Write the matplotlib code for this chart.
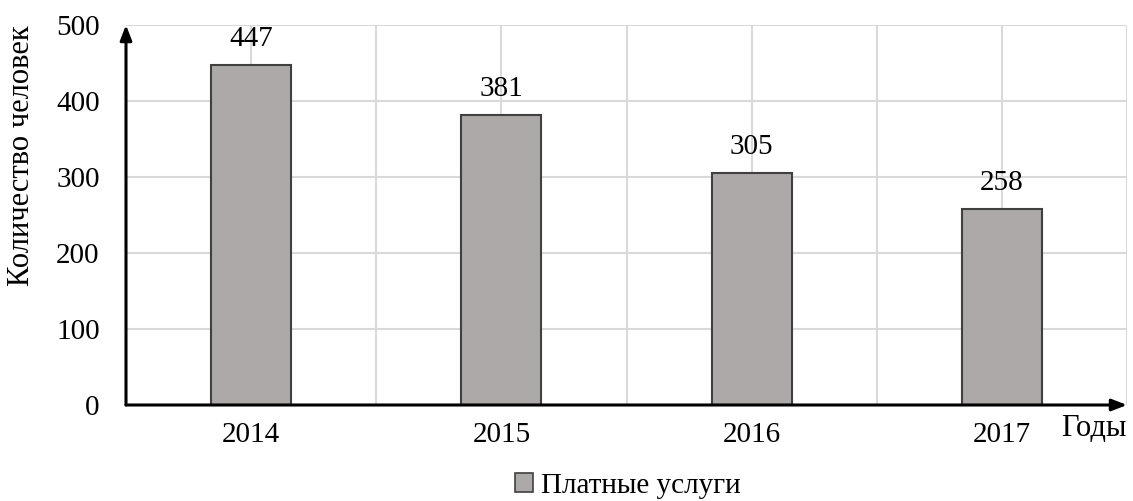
import matplotlib
matplotlib.use('Agg')
import matplotlib.pyplot as plt
import numpy as np
from matplotlib.patches import Patch

years = ['2014', '2015', '2016', '2017']
values = [447, 381, 305, 258]
series_name = 'Платные услуги'
y_ticks = [0, 100, 200, 300, 400, 500]

plt.rcParams['font.family'] = ['Liberation Serif', 'DejaVu Serif']

bar_color = '#ada9a9'
edge_color = '#404040'
grid_color = '#d9d9d9'

fig = plt.figure(figsize=(11.33, 5.01), dpi=100)
ax = fig.add_axes([126 / 1133, 96 / 501, 1001 / 1133, 380 / 501])

x = np.arange(len(years))
ax.set_xlim(-0.5, len(years) - 0.5)
ax.set_ylim(0, 500)

# grid: horizontal at ticks, vertical at centres and boundaries
for yv in y_ticks[1:]:
    ax.axhline(yv, color=grid_color, lw=1.5, zorder=0)
for xv in np.arange(0, len(years), 0.5):
    ax.axvline(xv, color=grid_color, lw=1.5, zorder=0)

ax.bar(x, values, width=0.32, color=bar_color, edgecolor=edge_color,
       linewidth=1.5, zorder=2)

for xi, v in zip(x, values):
    ax.annotate(str(v), (xi, v), xytext=(0, 19), textcoords='offset points',
                ha='center', va='center', fontsize=21, zorder=3)

for s in ax.spines.values():
    s.set_visible(False)

# arrows for axes
arrow = dict(arrowstyle='-|>,head_length=0.9,head_width=0.35',
             color='black', lw=2.2, shrinkA=0, shrinkB=0)
ax.annotate('', xy=(0, 1), xytext=(0, 0), xycoords='axes fraction',
            arrowprops=arrow, annotation_clip=False, zorder=4)
ax.annotate('', xy=(1, 0), xytext=(0, 0), xycoords='axes fraction',
            arrowprops=arrow, annotation_clip=False, zorder=4)

ax.set_xticks(x)
ax.set_xticklabels(years, fontsize=21)
ax.set_yticks(y_ticks)
ax.set_yticklabels([str(t) for t in y_ticks], fontsize=21)
ax.tick_params(axis='both', length=0)
ax.tick_params(axis='y', pad=19)
ax.tick_params(axis='x', pad=12)

fig.text(22 / 1133, 1 - 156 / 501, 'Количество человек', rotation=90,
         ha='center', va='center', fontsize=22)
ax.text(1.0, -0.025, 'Годы', transform=ax.transAxes, ha='right', va='top',
        fontsize=22)

handle = Patch(facecolor=bar_color, edgecolor=edge_color, linewidth=1.2)
fig.legend([handle], [series_name], loc='center',
           bbox_to_anchor=(628 / 1133, 1 - 486 / 501), frameon=False,
           fontsize=21, handlelength=0.6, handleheight=0.6,
           handletextpad=0.3, borderpad=0, borderaxespad=0)

fig.savefig('out.png', dpi=100)
